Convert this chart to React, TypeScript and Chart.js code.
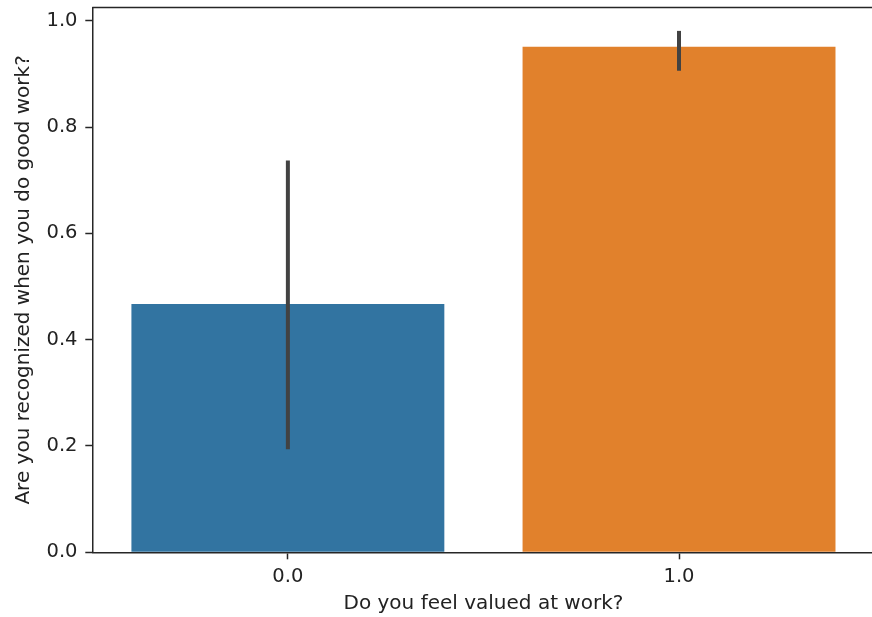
import React, { useEffect, useRef } from "react";
import { Chart, registerables } from "chart.js";

Chart.register(...registerables);

const categories = ["0.0", "1.0"];
const means = [0.467, 0.951];
const ciLow = [0.194, 0.906];
const ciHigh = [0.737, 0.981];
const barColors = ["#3274a1", "#e1812c"];
const xTitle = "Do you feel valued at work?";
const yTitle = "Are you recognized when you do good work?";

const FONT = "'DejaVu Sans', sans-serif";
const TEXT = "#222222";
const SPINE = "#262626";

const errorBarPlugin = {
  id: "errorBars",
  afterDatasetsDraw(chart: any) {
    const { ctx, scales } = chart;
    const xs = scales.x;
    const ys = scales.y;
    ctx.save();
    ctx.strokeStyle = "#424242";
    ctx.lineWidth = 4;
    ctx.lineCap = "butt";
    for (let i = 0; i < categories.length; i++) {
      const x = xs.getPixelForValue(i);
      ctx.beginPath();
      ctx.moveTo(x, ys.getPixelForValue(ciLow[i]));
      ctx.lineTo(x, ys.getPixelForValue(ciHigh[i]));
      ctx.stroke();
    }
    ctx.restore();
  },
};

const topSpinePlugin = {
  id: "topSpine",
  afterDraw(chart: any) {
    const { ctx, chartArea } = chart;
    ctx.save();
    ctx.strokeStyle = SPINE;
    ctx.lineWidth = 1.5;
    ctx.beginPath();
    ctx.moveTo(chartArea.left, chartArea.top);
    ctx.lineTo(chartArea.right, chartArea.top);
    ctx.stroke();
    ctx.restore();
  },
};

export default function App() {
  const ref = useRef<HTMLCanvasElement>(null);
  useEffect(() => {
    if (!ref.current) return;
    const chart = new Chart(ref.current, {
      type: "bar",
      data: {
        labels: categories,
        datasets: [
          {
            data: means,
            backgroundColor: barColors,
            borderWidth: 0,
            barPercentage: 0.8,
            categoryPercentage: 1.0,
          },
        ],
      },
      options: {
        animation: false,
        responsive: false,
        devicePixelRatio: 1,
        layout: { padding: { top: 7.5, right: 5.4, bottom: 0, left: 0 } },
        plugins: { legend: { display: false }, tooltip: { enabled: false } },
        scales: {
          x: {
            offset: true,
            grid: {
              display: true,
              offset: false,
              drawOnChartArea: false,
              drawTicks: true,
              tickLength: 7,
              tickWidth: 1.5,
              tickColor: SPINE,
            },
            border: { display: true, color: SPINE, width: 1.5 },
            ticks: {
              color: TEXT,
              font: { family: FONT, size: 19.5 },
              padding: 6,
              maxRotation: 0,
            },
            title: {
              display: true,
              text: xTitle,
              color: TEXT,
              font: { family: FONT, size: 20 },
              padding: { top: 0, bottom: 1.4 },
            },
            afterFit(scale: any) {
              scale.height = 64.7;
              scale.paddingLeft = 0;
              scale.paddingRight = 0;
            },
          },
          y: {
            min: 0,
            max: 1.025,
            grid: {
              display: true,
              drawOnChartArea: false,
              drawTicks: true,
              tickLength: 7,
              tickWidth: 1.5,
              tickColor: SPINE,
            },
            border: { display: true, color: SPINE, width: 1.5 },
            ticks: {
              stepSize: 0.2,
              includeBounds: false,
              color: TEXT,
              font: { family: FONT, size: 19.5 },
              padding: 7.8,
              callback: (v: any) => Number(v).toFixed(1),
            },
            title: {
              display: true,
              text: yTitle,
              color: TEXT,
              font: { family: FONT, size: 20 },
              padding: { top: 11.5, bottom: 0 },
            },
            afterFit(scale: any) {
              scale.width = 92.3;
              scale.paddingTop = 0;
              scale.paddingBottom = 0;
            },
          },
        },
      },
      plugins: [errorBarPlugin, topSpinePlugin],
    });
    return () => chart.destroy();
  }, []);
  return (
    <div
      style={{
        position: "fixed",
        left: 0,
        top: 0,
        width: 872,
        height: 617,
        overflow: "hidden",
        background: "#ffffff",
      }}
    >
      <canvas ref={ref} width={880} height={617} style={{ width: 880, height: 617, display: "block" }} />
    </div>
  );
}
